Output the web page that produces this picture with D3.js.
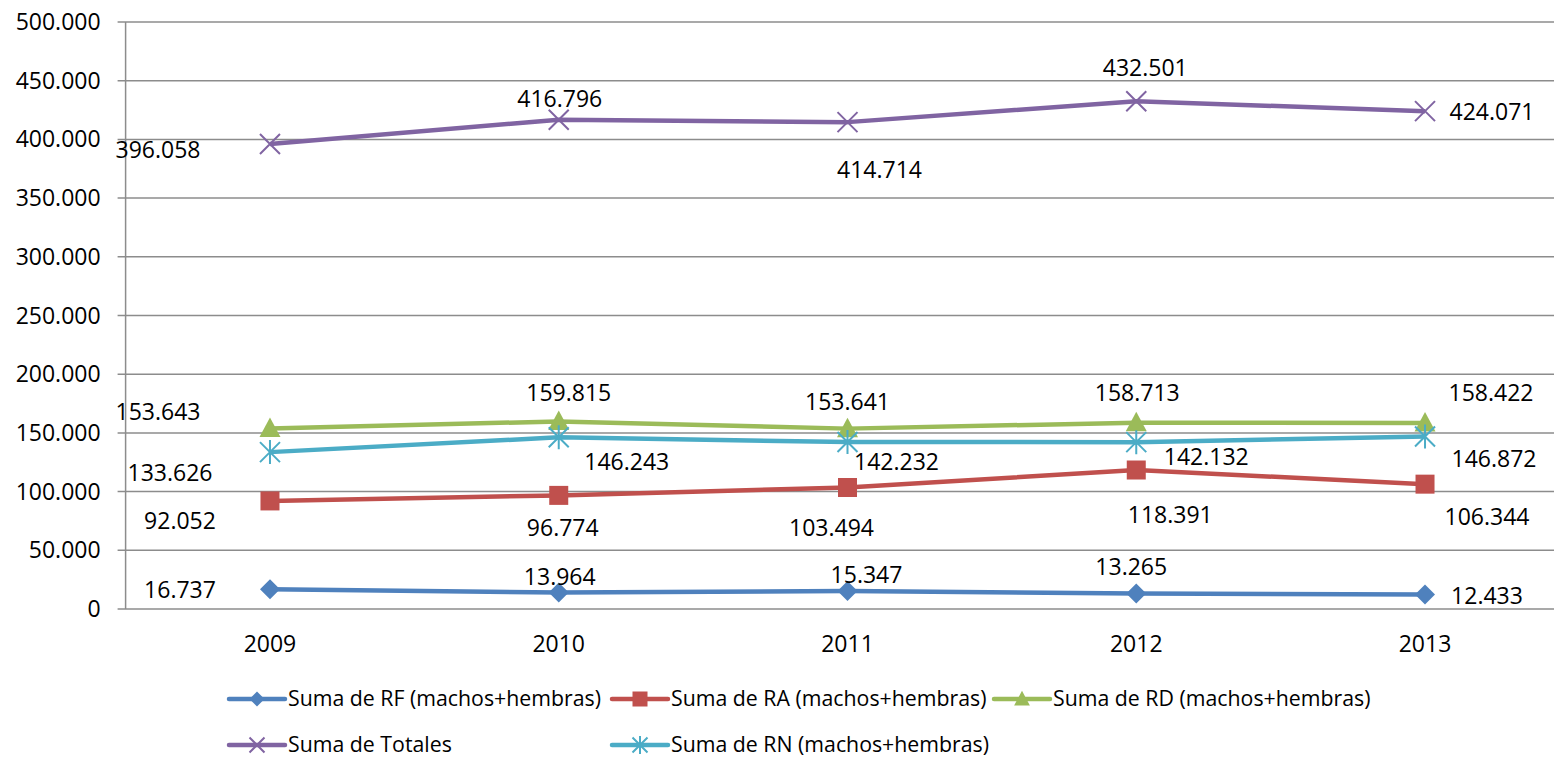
<!DOCTYPE html>
<html>
  <head>
    <meta charset="utf-8" />
    <title>Suma de RF, RA, RD, RN y Totales 2009-2013</title>
    <script src="https://cdnjs.cloudflare.com/ajax/libs/d3/7.8.5/d3.min.js"></script>
    <style>
      html, body { margin: 0; padding: 0; background: #fff; }
      svg { display: block; font-family: "Open Sans", "Noto Sans", sans-serif; }
      .grid line { stroke: #8c8c8c; stroke-width: 1.5; }
      .lbl { font-size: 23px; fill: #000; }
      .leg { font-size: 21.3px; fill: #000; }
    </style>
  </head>
  <body>
    <div id="chart"></div>
    <script>
      // data
      var years = ["2009", "2010", "2011", "2012", "2013"];
      var rf = [16737, 13964, 15347, 13265, 12433];
      var ra = [92052, 96774, 103494, 118391, 106344];
      var rd = [153643, 159815, 153641, 158713, 158422];
      var totales = [396058, 416796, 414714, 432501, 424071];
      var rn = [133626, 146243, 142232, 142132, 146872];
      var yTicks = [0, 50000, 100000, 150000, 200000, 250000, 300000, 350000, 400000, 450000, 500000];

      // where each data label sits relative to its point (px)
      var labelOffsets = {
        rf: [[-90, 1], [1, -16], [19, -16], [-5, -26], [62, 2]],
        ra: [[-90, 20], [4, 33], [-16, 40], [34, 45], [62, 33]],
        rd: [[-112, -17], [10, -28], [0, -27], [1, -30], [66, -30]],
        totales: [[-112, 6], [1, -21], [32, 48], [9, -33], [67, 1]],
        rn: [[-100, 21], [68, 25], [49, 20], [70, 15], [69, 22]]
      };

      var series = [
        { key: "rf", name: "Suma de RF (machos+hembras)", values: rf, color: "#4F81BD", marker: "diamond" },
        { key: "ra", name: "Suma de RA (machos+hembras)", values: ra, color: "#C0504D", marker: "square" },
        { key: "rd", name: "Suma de RD (machos+hembras)", values: rd, color: "#9BBB59", marker: "triangle" },
        { key: "totales", name: "Suma de Totales", values: totales, color: "#8064A2", marker: "x" },
        { key: "rn", name: "Suma de RN (machos+hembras)", values: rn, color: "#4BACC6", marker: "star" }
      ];

      var width = 1554, height = 757;
      var plotLeft = 125.6, plotRight = 1569.4, plotTop = 22, plotBottom = 609;

      var locale = d3.formatLocale({ decimal: ",", thousands: ".", grouping: [3], currency: ["", ""] });
      var fmt = locale.format(",d");

      var svg = d3.select("#chart").append("svg")
        .attr("width", width)
        .attr("height", height);

      var x = d3.scaleBand().domain(years).range([plotLeft, plotRight]);
      var y = d3.scaleLinear().domain([0, 500000]).range([plotBottom, plotTop]);
      function cx(i) { return x(years[i]) + x.bandwidth() / 2; }

      // gridlines + ticks
      var grid = svg.append("g").attr("class", "grid");
      grid.selectAll("line.h")
        .data(yTicks)
        .enter()
        .append("line")
        .attr("class", "h")
        .attr("x1", plotLeft - 8)
        .attr("x2", plotRight)
        .attr("y1", function (d) { return y(d); })
        .attr("y2", function (d) { return y(d); });
      grid.append("line")
        .attr("x1", plotLeft).attr("x2", plotLeft)
        .attr("y1", plotTop).attr("y2", plotBottom);

      // y labels
      svg.append("g").selectAll("text")
        .data(yTicks)
        .enter()
        .append("text")
        .attr("class", "lbl")
        .attr("x", plotLeft - 25)
        .attr("y", function (d) { return y(d); })
        .attr("dy", "0.35em")
        .attr("text-anchor", "end")
        .text(function (d) { return fmt(d); });

      // x labels
      svg.append("g").selectAll("text")
        .data(years)
        .enter()
        .append("text")
        .attr("class", "lbl")
        .attr("x", function (d) { return x(d) + x.bandwidth() / 2; })
        .attr("y", plotBottom + 35)
        .attr("dy", "0.35em")
        .attr("text-anchor", "middle")
        .text(function (d) { return d; });

      function drawMarker(g, type, color, s) {
        if (type === "diamond") {
          g.append("path")
            .attr("d", "M0," + (-s) + "L" + s + ",0L0," + s + "L" + (-s) + ",0Z")
            .attr("fill", color);
        } else if (type === "square") {
          g.append("rect")
            .attr("x", -s).attr("y", -s)
            .attr("width", 2 * s).attr("height", 2 * s)
            .attr("fill", color);
        } else if (type === "triangle") {
          g.append("path")
            .attr("d", "M0," + (-s * 1.1) + "L" + s * 1.05 + "," + s * 0.85 + "L" + (-s * 1.05) + "," + s * 0.85 + "Z")
            .attr("fill", color);
        } else if (type === "x") {
          g.append("path")
            .attr("d", "M" + (-s) + "," + (-s) + "L" + s + "," + s + "M" + (-s) + "," + s + "L" + s + "," + (-s))
            .attr("stroke", color).attr("stroke-width", 2).attr("fill", "none");
        } else if (type === "star") {
          g.append("path")
            .attr("d", "M" + (-s) + "," + (-s) + "L" + s + "," + s + "M" + (-s) + "," + s + "L" + s + "," + (-s) +
              "M0," + (-s * 1.2) + "L0," + s * 1.2)
            .attr("stroke", color).attr("stroke-width", 2).attr("fill", "none");
        }
      }

      var line = d3.line()
        .x(function (d, i) { return cx(i); })
        .y(function (d) { return y(d); });

      series.forEach(function (s) {
        var g = svg.append("g").attr("class", "series-" + s.key);
        g.append("path")
          .datum(s.values)
          .attr("d", line)
          .attr("fill", "none")
          .attr("stroke", s.color)
          .attr("stroke-width", 4.5)
          .attr("stroke-linejoin", "round");
        s.values.forEach(function (v, i) {
          var m = g.append("g").attr("transform", "translate(" + cx(i) + "," + y(v) + ")");
          drawMarker(m, s.marker, s.color, s.marker === "square" ? 9.5 : 10);
        });
      });

      // data labels
      series.forEach(function (s) {
        svg.append("g").selectAll("text")
          .data(s.values)
          .enter()
          .append("text")
          .attr("class", "lbl")
          .attr("x", function (d, i) { return cx(i) + labelOffsets[s.key][i][0]; })
          .attr("y", function (d, i) { return y(d) + labelOffsets[s.key][i][1]; })
          .attr("dy", "0.35em")
          .attr("text-anchor", "middle")
          .text(function (d) { return fmt(d); });
      });

      // legend
      var legendPos = [[229, 699], [612, 699], [994, 699], [229, 745], [612, 745]];
      series.forEach(function (s, i) {
        var lg = svg.append("g").attr("transform", "translate(" + legendPos[i][0] + "," + legendPos[i][1] + ")");
        lg.append("line")
          .attr("x1", 0).attr("x2", 56)
          .attr("stroke", s.color).attr("stroke-width", 4.5)
          .attr("stroke-linecap", "round");
        var m = lg.append("g").attr("transform", "translate(28,0)");
        drawMarker(m, s.marker, s.color, 7.5);
        lg.append("text")
          .attr("class", "leg")
          .attr("x", 59)
          .attr("dy", "0.35em")
          .text(s.name);
      });
    </script>
  </body>
</html>
